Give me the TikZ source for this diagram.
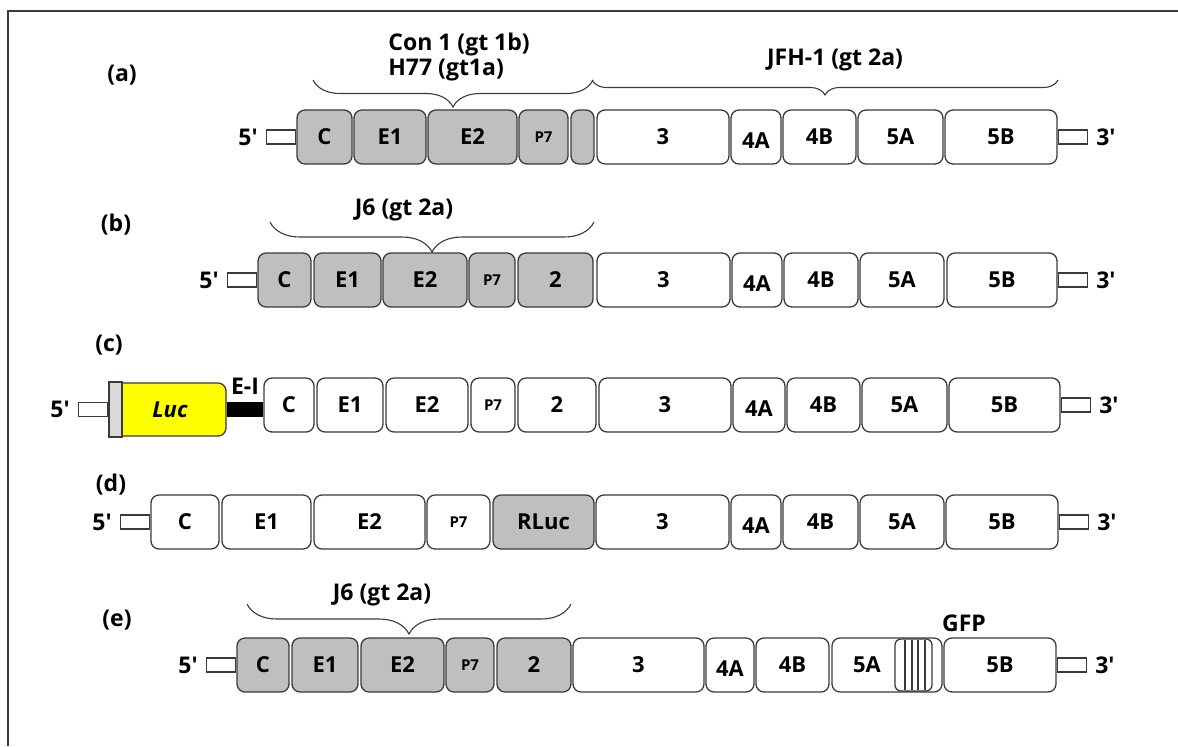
\documentclass[tikz,border=0pt]{standalone}
\usepackage{fontspec}
\setmainfont{Open Sans}
\usetikzlibrary{positioning,decorations.pathreplacing}
\definecolor{edge}{HTML}{3A3A3A}
\definecolor{coregrey}{HTML}{BFBFBF}
\definecolor{lucyellow}{HTML}{FFFF00}
\definecolor{capgrey}{HTML}{D9D9D9}
\newcommand{\psev}{{\fontsize{7.5}{8}\selectfont P7}}
\newcommand{\fourA}{\raisebox{-2pt}[\height][\depth]{4A}}
\newcommand{\prm}{\textquotesingle}

\begin{document}
\begin{tikzpicture}[x=0.5pt, y=-0.5pt,
  gene/.style={draw=edge, line width=0.65pt, rounded corners=4pt, fill=white,
    minimum height=27pt, inner sep=0pt, font=\fontsize{11}{12}\selectfont\bfseries},
  core/.style={gene, fill=coregrey},
  utr/.style={draw=edge, line width=0.65pt, fill=white, minimum width=14.5pt,
    minimum height=7pt, inner sep=0pt},
  tag/.style={font=\fontsize{11.5}{13}\selectfont\bfseries, inner sep=1pt},
  brc/.style={draw=edge, line width=0.55pt, decorate,
    decoration={brace, mirror, amplitude=#1}}]
  \useasboundingbox (0,0) rectangle (1178,746);
  \draw[edge, line width=0.9pt] (8,746) -- (8,11) -- (1178,11);

  % (a) Con1 / H77 chimera
  \node[tag] (la) at (122,75) {(a)};
  \node[tag, anchor=west] (con) at (386,45) {Con 1 (gt 1b)};
  \node[tag, anchor=west] (h77) at (386,70) {H77 (gt1a)};
  \node[tag] (jfh) at (835,60) {JFH-1 (gt 2a)};
  \draw[brc=13.5pt] (313,80) -- (593,80);
  \draw[brc=7.5pt] (592,80) -- (1058,80);
  \foreach \n/\l/\r/\t/\s in {C/297/352/C/core, E1/354/426/E1/core,
      E2/428/517/E2/core, P7/519/568/\psev/core, X/571/594/{}/core,
      3/597/729/3/gene, 4A/731/781/\fourA/gene, 4B/783/856/4B/gene,
      5A/858/943/5A/gene, 5B/945/1057/5B/gene}
    \node[\s, minimum width={(\r-\l)*0.5pt}] (a\n) at ({(\l+\r)/2},137) {\t};
  \node[utr, left=0pt of aC] (a5u) {};
  \node[tag, left=3pt of a5u] {5\prm};
  \node[utr, right=0pt of a5B] (a3u) {};
  \node[tag, right=3pt of a3u] {3\prm};

  % (b) J6 chimera
  \node[tag] (lb) at (116,225) {(b)};
  \node[tag] (j6b) at (404,210) {J6 (gt 2a)};
  \draw[brc=15pt] (270,222) -- (594,222);
  \foreach \n/\l/\r/\t/\s in {C/258/311/C/core, E1/314/381/E1/core,
      E2/383/467/E2/core, P7/469/515/\psev/core, X/518/593/2/core,
      3/597/730/3/gene, 4A/732/782/\fourA/gene, 4B/784/858/4B/gene,
      5A/860/944/5A/gene, 5B/947/1057/5B/gene}
    \node[\s, minimum width={(\r-\l)*0.5pt}] (b\n) at ({(\l+\r)/2},280) {\t};
  \node[utr, left=0pt of bC] (b5u) {};
  \node[tag, left=3pt of b5u] {5\prm};
  \node[utr, right=0pt of b5B] (b3u) {};
  \node[tag, right=3pt of b3u] {3\prm};

  % (c) luciferase reporter
  \node[tag] (lc) at (109,345) {(c)};
  \foreach \n/\l/\r/\t/\s in {C/264/314/C/gene, E1/317/383/E1/gene,
      E2/386/468/E2/gene, P7/471/515/\psev/gene, X/518/596/2/gene,
      3/599/731/3/gene, 4A/733/785/\fourA/gene, 4B/787/860/4B/gene,
      5A/862/947/5A/gene, 5B/949/1060/5B/gene}
    \node[\s, minimum width={(\r-\l)*0.5pt}] (c\n) at ({(\l+\r)/2},405) {\t};
  \node[gene, fill=lucyellow, minimum width=56pt, minimum height=26.5pt,
    font=\fontsize{11}{12}\selectfont\bfseries\itshape] (luc) at (170,409.5) {Luc};
  \node[draw=edge, line width=0.65pt, fill=capgrey, minimum width=6.5pt,
    minimum height=27.5pt, inner sep=0pt] (cap) at (115.5,409.5) {};
  \draw[line width=7.5pt] (luc.east) -- node[tag, above=4pt, inner sep=0pt] {E-I}
    (luc.east -| cC.west);
  \node[utr, left=0pt of cap] (c5u) {};
  \node[tag, left=3pt of c5u] {5\prm};
  \node[utr, right=0pt of c5B] (c3u) {};
  \node[tag, right=3pt of c3u] {3\prm};

  % (d) Renilla luciferase in place of NS2
  \node[tag] (ld) at (111,485) {(d)};
  \foreach \n/\l/\r/\t/\s in {C/151/219/C/gene, E1/222/311/E1/gene,
      E2/314/425/E2/gene, P7/427/490/\psev/gene, X/493/594/RLuc/core,
      3/596/729/3/gene, 4A/731/781/\fourA/gene, 4B/783/858/4B/gene,
      5A/860/944/5A/gene, 5B/946/1058/5B/gene}
    \node[\s, minimum width={(\r-\l)*0.5pt}] (d\n) at ({(\l+\r)/2},522) {\t};
  \node[utr, left=0pt of dC] (d5u) {};
  \node[tag, left=3pt of d5u] {5\prm};
  \node[utr, right=0pt of d5B] (d3u) {};
  \node[tag, right=3pt of d3u] {3\prm};

  % (e) J6 chimera with GFP in NS5A
  \node[tag] (le) at (117,620) {(e)};
  \node[tag] (j6e) at (382,595) {J6 (gt 2a)};
  \draw[brc=15pt] (247,604) -- (571,604);
  \foreach \n/\l/\r/\t/\s in {C/237/289/C/core, E1/292/358/E1/core,
      E2/361/444/E2/core, P7/446/494/\psev/core, X/497/571/2/core,
      3/573/704/3/gene, 4A/706/754/\fourA/gene, 4B/756/829/4B/gene,
      5A/832/942/{}/gene, 5B/944/1056/5B/gene}
    \node[\s, minimum width={(\r-\l)*0.5pt}] (e\n) at ({(\l+\r)/2},665) {\t};
  \node[gene, draw=none, fill=none] (e5Atxt) at (867,665) {5A};
  \node[draw=edge, line width=0.65pt, rounded corners=3pt, minimum width=18.5pt,
    minimum height=26pt, inner sep=0pt] (gfp) at (913.5,665) {};
  \foreach \x in {905,912,918,925}
    \draw[edge, line width=0.65pt] (\x,640) -- (\x,690);
  \node[tag] (gfptxt) at (964,623) {GFP};
  \node[utr, left=0pt of eC] (e5u) {};
  \node[tag, left=3pt of e5u] {5\prm};
  \node[utr, right=0pt of e5B] (e3u) {};
  \node[tag, right=3pt of e3u] {3\prm};
\end{tikzpicture}
\end{document}
